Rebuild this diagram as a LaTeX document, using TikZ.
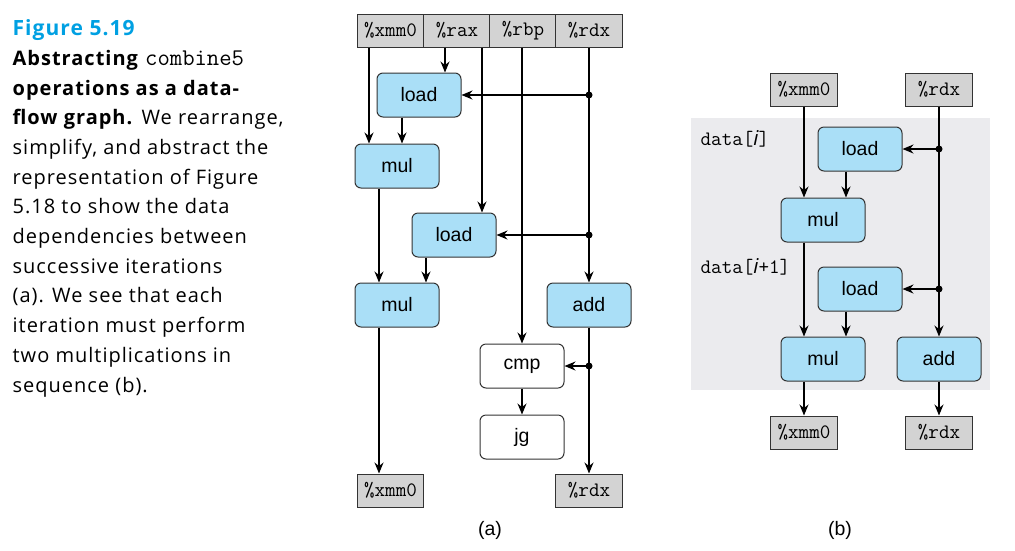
\documentclass[tikz,border=0pt]{standalone}
\usepackage{fontspec}
\setsansfont{Liberation Sans}
\newfontfamily\capfont[LetterSpace=5]{Open Sans}
\usetikzlibrary{arrows.meta}
\definecolor{opblue}{RGB}{170,223,247}
\definecolor{reggray}{RGB}{211,211,211}
\definecolor{bggray}{RGB}{235,235,238}
\definecolor{figblue}{RGB}{0,160,226}
\begin{document}
\begin{tikzpicture}[x=1pt,y=-1pt,line width=1.3pt,
  >={Stealth[length=11pt,width=9pt]},
  op/.style={draw=black!80,line width=1pt,fill=opblue,rounded corners=6pt,minimum width=84pt,minimum height=44pt,inner sep=0pt,font=\sffamily\fontsize{19.5}{22}\selectfont},
  plain/.style={op,fill=white},
  reg/.style={draw=black!80,line width=1pt,fill=reggray,minimum width=66.5pt,minimum height=33pt,inner sep=0pt,font=\ttfamily\fontsize{20.5}{24}\selectfont}]

  \useasboundingbox (0,0) rectangle (1015,550);

  % caption
  \node (cap) [anchor=north west,inner sep=0pt,align=left,font=\capfont\fontsize{20}{29.7}\selectfont] at (12,19)
    {{\color{figblue}\bfseries\fontsize{21}{29.7}\selectfont Figure 5.19}\\
     \textbf{Abstracting} {\ttfamily\fontsize{24}{29.7}\selectfont combine5}\\
     \textbf{operations as a data-}\\
     \textbf{flow graph.} We rearrange,\\
     simplify, and abstract the\\
     representation of Figure\\
     5.18 to show the data\\
     dependencies between\\
     successive iterations\\
     (a). We see that each\\
     iteration must perform\\
     two multiplications in\\
     sequence (b).};

  % (a)
  \node (a) [reg] at (390.5, 30.5) {\%xmm0};
  \node (b) [reg] at (457, 30.5) {\%rax};
  \node (c) [reg] at (523, 30.5) {\%rbp};
  \node (d) [reg] at (589, 30.5) {\%rdx};
  \node (e) [op] at (419, 95) {load};
  \node (f) [op] at (397, 166) {mul};
  \node (g) [op] at (454, 235) {load};
  \node (h) [op] at (397, 305) {mul};
  \node (i) [op] at (589, 305) {add};
  \node (j) [plain] at (522, 366) {cmp};
  \node (k) [plain] at (522, 437) {jg};
  \node (l) [reg] at (390.5, 490.5) {\%xmm0};
  \node (m) [reg] at (589, 490.5) {\%rdx};
  \node (la) [font=\sffamily\fontsize{19.5}{22}\selectfont] at (490, 530) {(a)};

  \coordinate (x1) at (369, 0);
  \coordinate (x2) at (445, 0);
  \coordinate (x3) at (482, 0);
  \coordinate (x4) at (402, 0);
  \coordinate (x5) at (379, 0);
  \coordinate (x6) at (426, 0);
  \coordinate (q1) at (d.south |- e.east);
  \coordinate (q2) at (d.south |- g.east);
  \coordinate (q3) at (d.south |- j.east);

  \draw [->] (a.south -| x1) to (f.north -| x1);
  \draw [->] (b.south -| x2) to (e.north -| x2);
  \draw [->] (b.south -| x3) to (g.north -| x3);
  \draw [->] (c.south -| j.north) to (j.north);
  \draw [->] (d.south) to (i.north);
  \draw [->] (e.south -| x4) to (f.north -| x4);
  \draw [->] (q1) to (e.east);
  \draw [->] (q2) to (g.east);
  \draw [->] (f.south -| x5) to (h.north -| x5);
  \draw [->] (g.south -| x6) to (h.north -| x6);
  \draw [->] (h.south -| x5) to (l.north -| x5);
  \draw [->] (i.south) to (m.north);
  \draw [->] (q3) to (j.east);
  \draw [->] (j) to (k);
  \fill (q1) circle (3.5);
  \fill (q2) circle (3.5);
  \fill (q3) circle (3.5);

  % (b)
  \fill [bggray] (691, 118) rectangle (990, 390);
  \node (n) [reg] at (804, 89.5) {\%xmm0};
  \node (o) [reg] at (939, 89.5) {\%rdx};
  \node (r) [op] at (860, 149) {load};
  \node (s) [op] at (823, 220) {mul};
  \node (t) [op] at (860, 289) {load};
  \node (u) [op] at (823, 359) {mul};
  \node (v) [op] at (939, 359) {add};
  \node (w) [reg] at (804, 432.5) {\%xmm0};
  \node (z) [reg] at (939, 432.5) {\%rdx};
  \node (di) [anchor=west,inner sep=0pt,font=\ttfamily\fontsize{20.5}{22}\selectfont] at (700, 139) {data[{\capfont\itshape i}]};
  \node (dj) [anchor=west,inner sep=0pt,font=\ttfamily\fontsize{20.5}{22}\selectfont] at (700, 267) {data[{\capfont\itshape i}+1]};
  \node (lb) [font=\sffamily\fontsize{19.5}{22}\selectfont] at (840, 530) {(b)};

  \coordinate (x7) at (846, 0);
  \coordinate (q4) at (o.south |- r.east);
  \coordinate (q5) at (o.south |- t.east);

  \draw [->] (n.south) to (n.south |- s.north);
  \draw [->] (r.south -| x7) to (s.north -| x7);
  \draw [->] (s.south -| n.south) to (u.north -| n.south);
  \draw [->] (t.south -| x7) to (u.north -| x7);
  \draw [->] (o.south) to (v.north);
  \draw [->] (q4) to (r.east);
  \draw [->] (q5) to (t.east);
  \draw [->] (u.south -| n.south) to (w.north);
  \draw [->] (v.south) to (z.north);
  \fill (q4) circle (3.5);
  \fill (q5) circle (3.5);

\end{tikzpicture}
\end{document}
